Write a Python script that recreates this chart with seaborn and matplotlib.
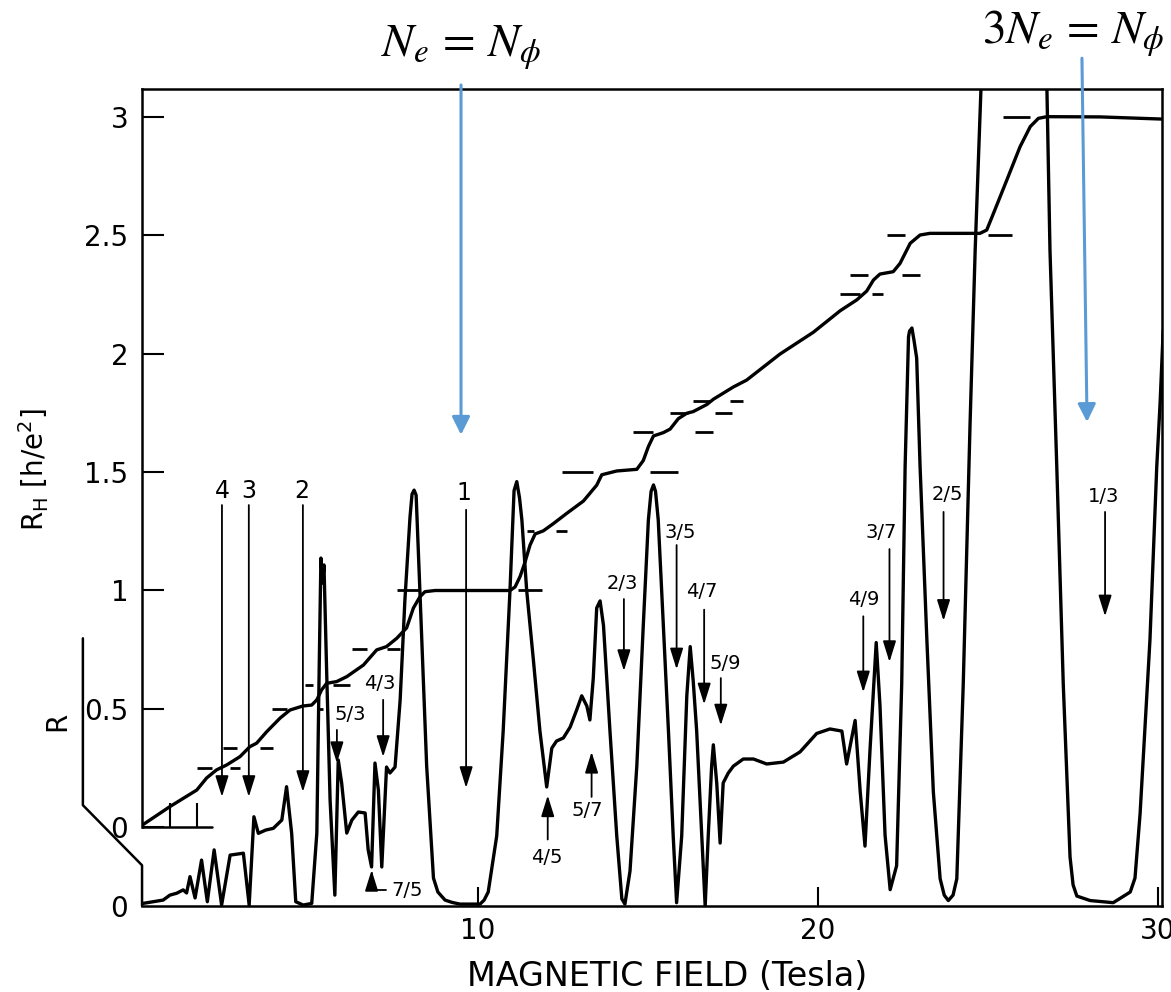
import numpy as np
import pandas as pd
import matplotlib
matplotlib.use("Agg")
import matplotlib.pyplot as plt
import seaborn as sns

# Hall resistance R_H in units of h/e^2 versus magnetic field B (tesla)
hall_B = [0.15, 0.94, 1.73, 2.02, 2.31, 2.61, 3.00, 3.29, 3.49, 3.79,
          4.18, 4.47, 4.85, 5.11, 5.26, 5.40, 5.55, 5.84, 6.14, 6.63,
          7.02, 7.31, 7.61, 7.90, 8.10, 8.29, 8.44, 8.74, 10.94, 11.09,
          11.24, 11.38, 11.53, 11.68, 11.92, 12.21, 12.61, 13.10, 13.49, 13.64,
          14.08, 14.67, 14.86, 15.01, 15.16, 15.45, 15.65, 15.89, 16.14, 16.33,
          16.53, 16.73, 16.92, 17.51, 17.90, 18.88, 19.86, 20.65, 21.14, 21.43,
          21.63, 21.82, 22.21, 22.41, 22.71, 23.00, 23.29, 24.76, 24.96, 25.16,
          25.55, 25.94, 26.24, 26.48, 26.73, 28.29, 30.09]
hall_RH = [0.010, 0.086, 0.156, 0.207, 0.241, 0.262, 0.297, 0.339, 0.354, 0.403,
           0.460, 0.494, 0.511, 0.515, 0.537, 0.579, 0.607, 0.614, 0.635, 0.684,
           0.748, 0.762, 0.797, 0.841, 0.925, 0.972, 0.994, 0.999, 0.999, 1.014,
           1.059, 1.118, 1.191, 1.238, 1.251, 1.281, 1.325, 1.377, 1.444, 1.488,
           1.504, 1.511, 1.548, 1.607, 1.652, 1.666, 1.681, 1.725, 1.748, 1.755,
           1.770, 1.785, 1.807, 1.859, 1.888, 1.998, 2.090, 2.181, 2.227, 2.264,
           2.311, 2.336, 2.346, 2.381, 2.466, 2.501, 2.508, 2.508, 2.522, 2.593,
           2.733, 2.874, 2.959, 2.994, 3.001, 3.000, 2.991]

# Longitudinal resistance R (arbitrary units) versus B
diag_B = [0.15, 0.74, 0.94, 1.14, 1.33, 1.43, 1.53, 1.68, 1.87, 2.04,
          2.24, 2.46, 2.71, 3.10, 3.27, 3.41, 3.54, 3.76, 3.98, 4.23,
          4.37, 4.52, 4.64, 4.86, 5.11, 5.26, 5.33, 5.38, 5.43, 5.47,
          5.55, 5.65, 5.79, 5.89, 5.99, 6.14, 6.29, 6.48, 6.68, 6.77,
          6.87, 6.97, 7.07, 7.17, 7.31, 7.41, 7.56, 7.71, 7.85, 8.00,
          8.06, 8.12, 8.18, 8.29, 8.49, 8.69, 8.82, 9.03, 9.24, 9.47,
          10.06, 10.18, 10.30, 10.55, 10.74, 10.94, 11.06, 11.14, 11.22, 11.29,
          11.43, 11.63, 11.82, 12.02, 12.17, 12.31, 12.51, 12.71, 12.90, 13.05,
          13.20, 13.29, 13.39, 13.49, 13.59, 13.69, 13.88, 14.08, 14.23, 14.32,
          14.47, 14.67, 14.86, 15.01, 15.09, 15.16, 15.22, 15.30, 15.45, 15.60,
          15.74, 15.84, 15.99, 16.14, 16.24, 16.33, 16.43, 16.53, 16.63, 16.68,
          16.77, 16.87, 16.92, 17.02, 17.12, 17.21, 17.36, 17.51, 17.80, 18.10,
          18.49, 18.98, 19.47, 19.96, 20.35, 20.70, 20.84, 21.09, 21.24, 21.38,
          21.53, 21.71, 21.82, 21.97, 22.12, 22.31, 22.46, 22.56, 22.66, 22.69,
          22.76, 22.82, 22.90, 23.00, 23.20, 23.39, 23.59, 23.71, 23.83, 23.97,
          24.08, 24.27, 24.47, 24.62, 24.79, 24.84, 26.68, 26.73, 26.82, 27.02,
          27.21, 27.41, 27.50, 27.61, 28.00, 28.68, 29.18, 29.32, 29.47, 29.76,
          29.96, 30.06, 30.15]
diag_R = [0.011, 0.025, 0.046, 0.054, 0.068, 0.055, 0.124, 0.034, 0.194, 0.018,
          0.237, 0.004, 0.215, 0.223, 0.004, 0.377, 0.307, 0.321, 0.328, 0.363,
          0.504, 0.307, 0.018, 0.004, 0.011, 0.308, 1.010, 1.470, 1.365, 1.441,
          0.984, 0.448, 0.046, 0.617, 0.520, 0.308, 0.363, 0.397, 0.393, 0.237,
          0.165, 0.604, 0.490, 0.165, 0.587, 0.562, 0.587, 0.870, 1.293, 1.643,
          1.740, 1.757, 1.736, 1.335, 0.591, 0.118, 0.059, 0.025, 0.015, 0.008,
          0.008, 0.025, 0.059, 0.296, 0.739, 1.333, 1.755, 1.793, 1.725, 1.631,
          1.335, 1.037, 0.740, 0.503, 0.667, 0.697, 0.710, 0.756, 0.828, 0.888,
          0.845, 0.786, 0.963, 1.259, 1.289, 1.185, 0.740, 0.296, 0.030, 0.008,
          0.148, 0.592, 1.185, 1.631, 1.752, 1.779, 1.752, 1.631, 1.185, 0.740,
          0.296, 0.014, 0.296, 0.888, 1.096, 0.948, 0.740, 0.444, 0.148, 0.000,
          0.296, 0.591, 0.681, 0.520, 0.266, 0.520, 0.562, 0.591, 0.621, 0.621,
          0.600, 0.608, 0.651, 0.729, 0.748, 0.739, 0.600, 0.784, 0.482, 0.253,
          0.665, 1.113, 0.849, 0.300, 0.069, 0.170, 0.940, 1.856, 2.405, 2.429,
          2.442, 2.391, 2.315, 1.856, 1.124, 0.482, 0.115, 0.046, 0.023, 0.046,
          0.115, 0.940, 2.038, 2.771, 3.452, 3.600, 3.600, 3.452, 2.771, 1.856,
          0.940, 0.207, 0.089, 0.042, 0.023, 0.014, 0.059, 0.118, 0.390, 1.124,
          1.856, 2.130, 2.433]

# Reference bars at the quantized values R_H = 1/nu (one on each side of a plateau)
bar_RH = [0.25, 0.25, 0.333, 0.333, 0.5, 0.5, 0.6, 0.6, 0.75, 0.75,
          1.0, 1.0, 1.25, 1.25, 1.5, 1.5, 1.667, 1.667, 1.75, 1.75,
          1.8, 1.8, 2.25, 2.25, 2.333, 2.333, 2.5, 2.5, 3.0]
bar_B0 = [1.74, 2.71, 2.50, 3.59, 3.94, 5.26, 4.91, 5.74, 6.29, 7.32,
          7.62, 11.18, 11.44, 12.29, 12.47, 15.06, 14.56, 16.38, 15.65, 16.97,
          16.32, 17.41, 20.65, 21.59, 20.94, 22.47, 22.03, 25.00, 25.44]
bar_B1 = [2.18, 3.00, 2.91, 3.97, 4.38, 5.44, 5.15, 6.24, 6.74, 7.71,
          8.29, 11.88, 11.65, 12.62, 13.38, 15.88, 15.15, 16.91, 16.18, 17.47,
          16.82, 17.79, 21.24, 21.91, 21.47, 23.00, 22.56, 25.71, 26.24]

# Filling-factor labels
nu_labels = ["4", "3", "2", "1", "5/3", "4/3", "2/3", "3/5", "4/7", "5/9",
             "4/9", "3/7", "2/5", "1/3", "4/5", "5/7"]
nu_field = [2.47, 3.26, 4.85, 9.65, 5.85, 7.21, 14.29, 15.84, 16.65, 17.14,
            21.33, 22.10, 23.69, 28.44, 12.05, 13.34]

# Annotation placement (text position and arrow span, axis units)
label_text_xy = [(2.47, 1.42), (3.26, 1.42), (4.82, 1.42), (9.59, 1.41),
                 (6.24, 0.473), (7.12, 0.608), (14.23, 1.029), (15.94, 1.244),
                 (16.58, 0.993), (17.26, 0.689), (21.33, 0.963), (21.87, 1.246),
                 (23.79, 1.403), (28.39, 1.398), (12.02, -0.128), (13.20, 0.068)]
arrow_span = [(1.36, 0.127), (1.36, 0.127), (1.36, 0.148), (1.34, 0.165),
              (0.41, 0.27), (0.537, 0.296), (0.963, 0.659), (1.191, 0.666),
              (0.918, 0.518), (0.629, 0.429), (0.890, 0.569), (1.174, 0.697),
              (1.331, 0.871), (1.331, 0.890), (-0.053, 0.133), (0.127, 0.317)]

sns.set_style("white")
plt.rcParams["font.family"] = ["DejaVu Sans", "DejaVu Sans"]
plt.rcParams.update({"text.color": "black", "axes.labelcolor": "black",
                     "xtick.color": "black", "ytick.color": "black"})

fig = plt.figure(figsize=(11.71, 9.92), dpi=100)
ax = fig.add_axes([0.1213, 0.0867, 0.8706, 0.8236])
ax2 = ax.twinx()

hall = pd.DataFrame({"B": hall_B, "RH": hall_RH})
diag = pd.DataFrame({"B": diag_B, "R": diag_R})
sns.lineplot(data=hall, x="B", y="RH", ax=ax, sort=False, estimator=None,
             color="black", lw=2.4, solid_joinstyle="round")
sns.lineplot(data=diag, x="B", y="R", ax=ax2, sort=False, estimator=None,
             color="black", lw=2.4, solid_joinstyle="round")

ax.hlines(bar_RH, bar_B0, bar_B1, color="black", lw=2.0)

ax.set_xlim(0.12, 30.1)
ax.set_ylim(-0.334, 3.118)
ax2.set_ylim(0, 3.452)

# Frame: the R_H axis line stops at zero, the R axis gets its own bracket
for s in ax.spines.values():
    s.set_linewidth(1.8)
    s.set_color("black")
ax.spines["left"].set_bounds(0, 3.118)
for s in ax2.spines.values():
    s.set_visible(False)
ax.plot([-1.62, -1.62, 0.12, 0.12], [0.797, 0.092, -0.162, -0.334],
        color="black", lw=1.8, clip_on=False)

# Small zero-line marker under the Hall trace
ax.plot([0.12, 2.17], [0, 0], color="black", lw=1.8)
ax.vlines([0.94, 1.74], 0, 0.10, color="black", lw=1.5)

ax.set_xticks([10, 20, 30])
ax.set_xticklabels(["10", "20", "30"])
ax.set_yticks([0, 0.5, 1, 1.5, 2, 2.5, 3])
ax.set_yticklabels(["0", "0.5", "1", "1.5", "2", "2.5", "3"])
ax.tick_params(axis="y", direction="in", length=16, width=1.5, pad=10,
               labelsize=20, left=True, right=False, colors="black")
ax.tick_params(axis="x", direction="in", length=14, width=1.5, pad=8,
               labelsize=20, bottom=True, top=False, colors="black")

ax2.set_yticks([0])
ax2.set_yticklabels(["0"])
ax2.tick_params(axis="y", left=True, right=False, labelleft=True,
                labelright=False, length=0, pad=10, labelsize=20, colors="black")
ax2.set_ylabel("")

ax.set_xlabel("MAGNETIC FIELD (Tesla)", fontsize=24, color="black")
ax.xaxis.set_label_coords(0.515, -0.066)
ax.set_ylabel(r"R$_\mathregular{H}$ [h/e$^\mathregular{2}$]", fontsize=20, color="black")
ax.yaxis.set_label_coords(-0.089, 0.534)
ax.text(-2.38, 0.446, "R", rotation=90, ha="center", va="center", fontsize=20)

# Filling-factor arrows
head = "-|>,head_length=0.8,head_width=0.25"
for lab, xb, (tx, ty), (y0, y1) in zip(nu_labels, nu_field, label_text_xy, arrow_span):
    size = 17 if "/" not in lab else 14
    ax.text(tx, ty, lab, ha="center", va="center", fontsize=size, zorder=6)
    ax.annotate("", xy=(xb, y1), xytext=(xb, y0),
                arrowprops=dict(arrowstyle=head, lw=1.3, color="black",
                                mutation_scale=16, shrinkA=0, shrinkB=0),
                zorder=6)
ax.annotate("7/5", xy=(6.87, -0.182), xytext=(7.44, -0.268), ha="left",
            va="center", fontsize=14,
            arrowprops=dict(arrowstyle=head, lw=1.3, color="black",
                            mutation_scale=16, shrinkA=1, shrinkB=0,
                            connectionstyle="angle,angleA=0,angleB=90,rad=0"))

# Blue markers for the nu = 1 and nu = 1/3 fields
blue = "#5B9BD5"
for start, tip in [((9.50, 3.135), (9.50, 1.657)), ((27.76, 3.248), (27.91, 1.711))]:
    ax.annotate("", xy=tip, xytext=start, annotation_clip=False,
                arrowprops=dict(arrowstyle="-|>", color=blue, lw=2.2,
                                mutation_scale=27, shrinkA=0, shrinkB=0),
                zorder=8)
fig.text(0.3937, 0.9425, r"$N_e\,=\,N_\phi$", ha="center", va="baseline",
         fontsize=34, math_fontfamily="stix")
fig.text(0.8386, 0.9563, r"$3N_e\,=\,N_\phi$", ha="left", va="baseline",
         fontsize=34, math_fontfamily="stix")

fig.savefig("out.png", dpi=100, facecolor="white")
